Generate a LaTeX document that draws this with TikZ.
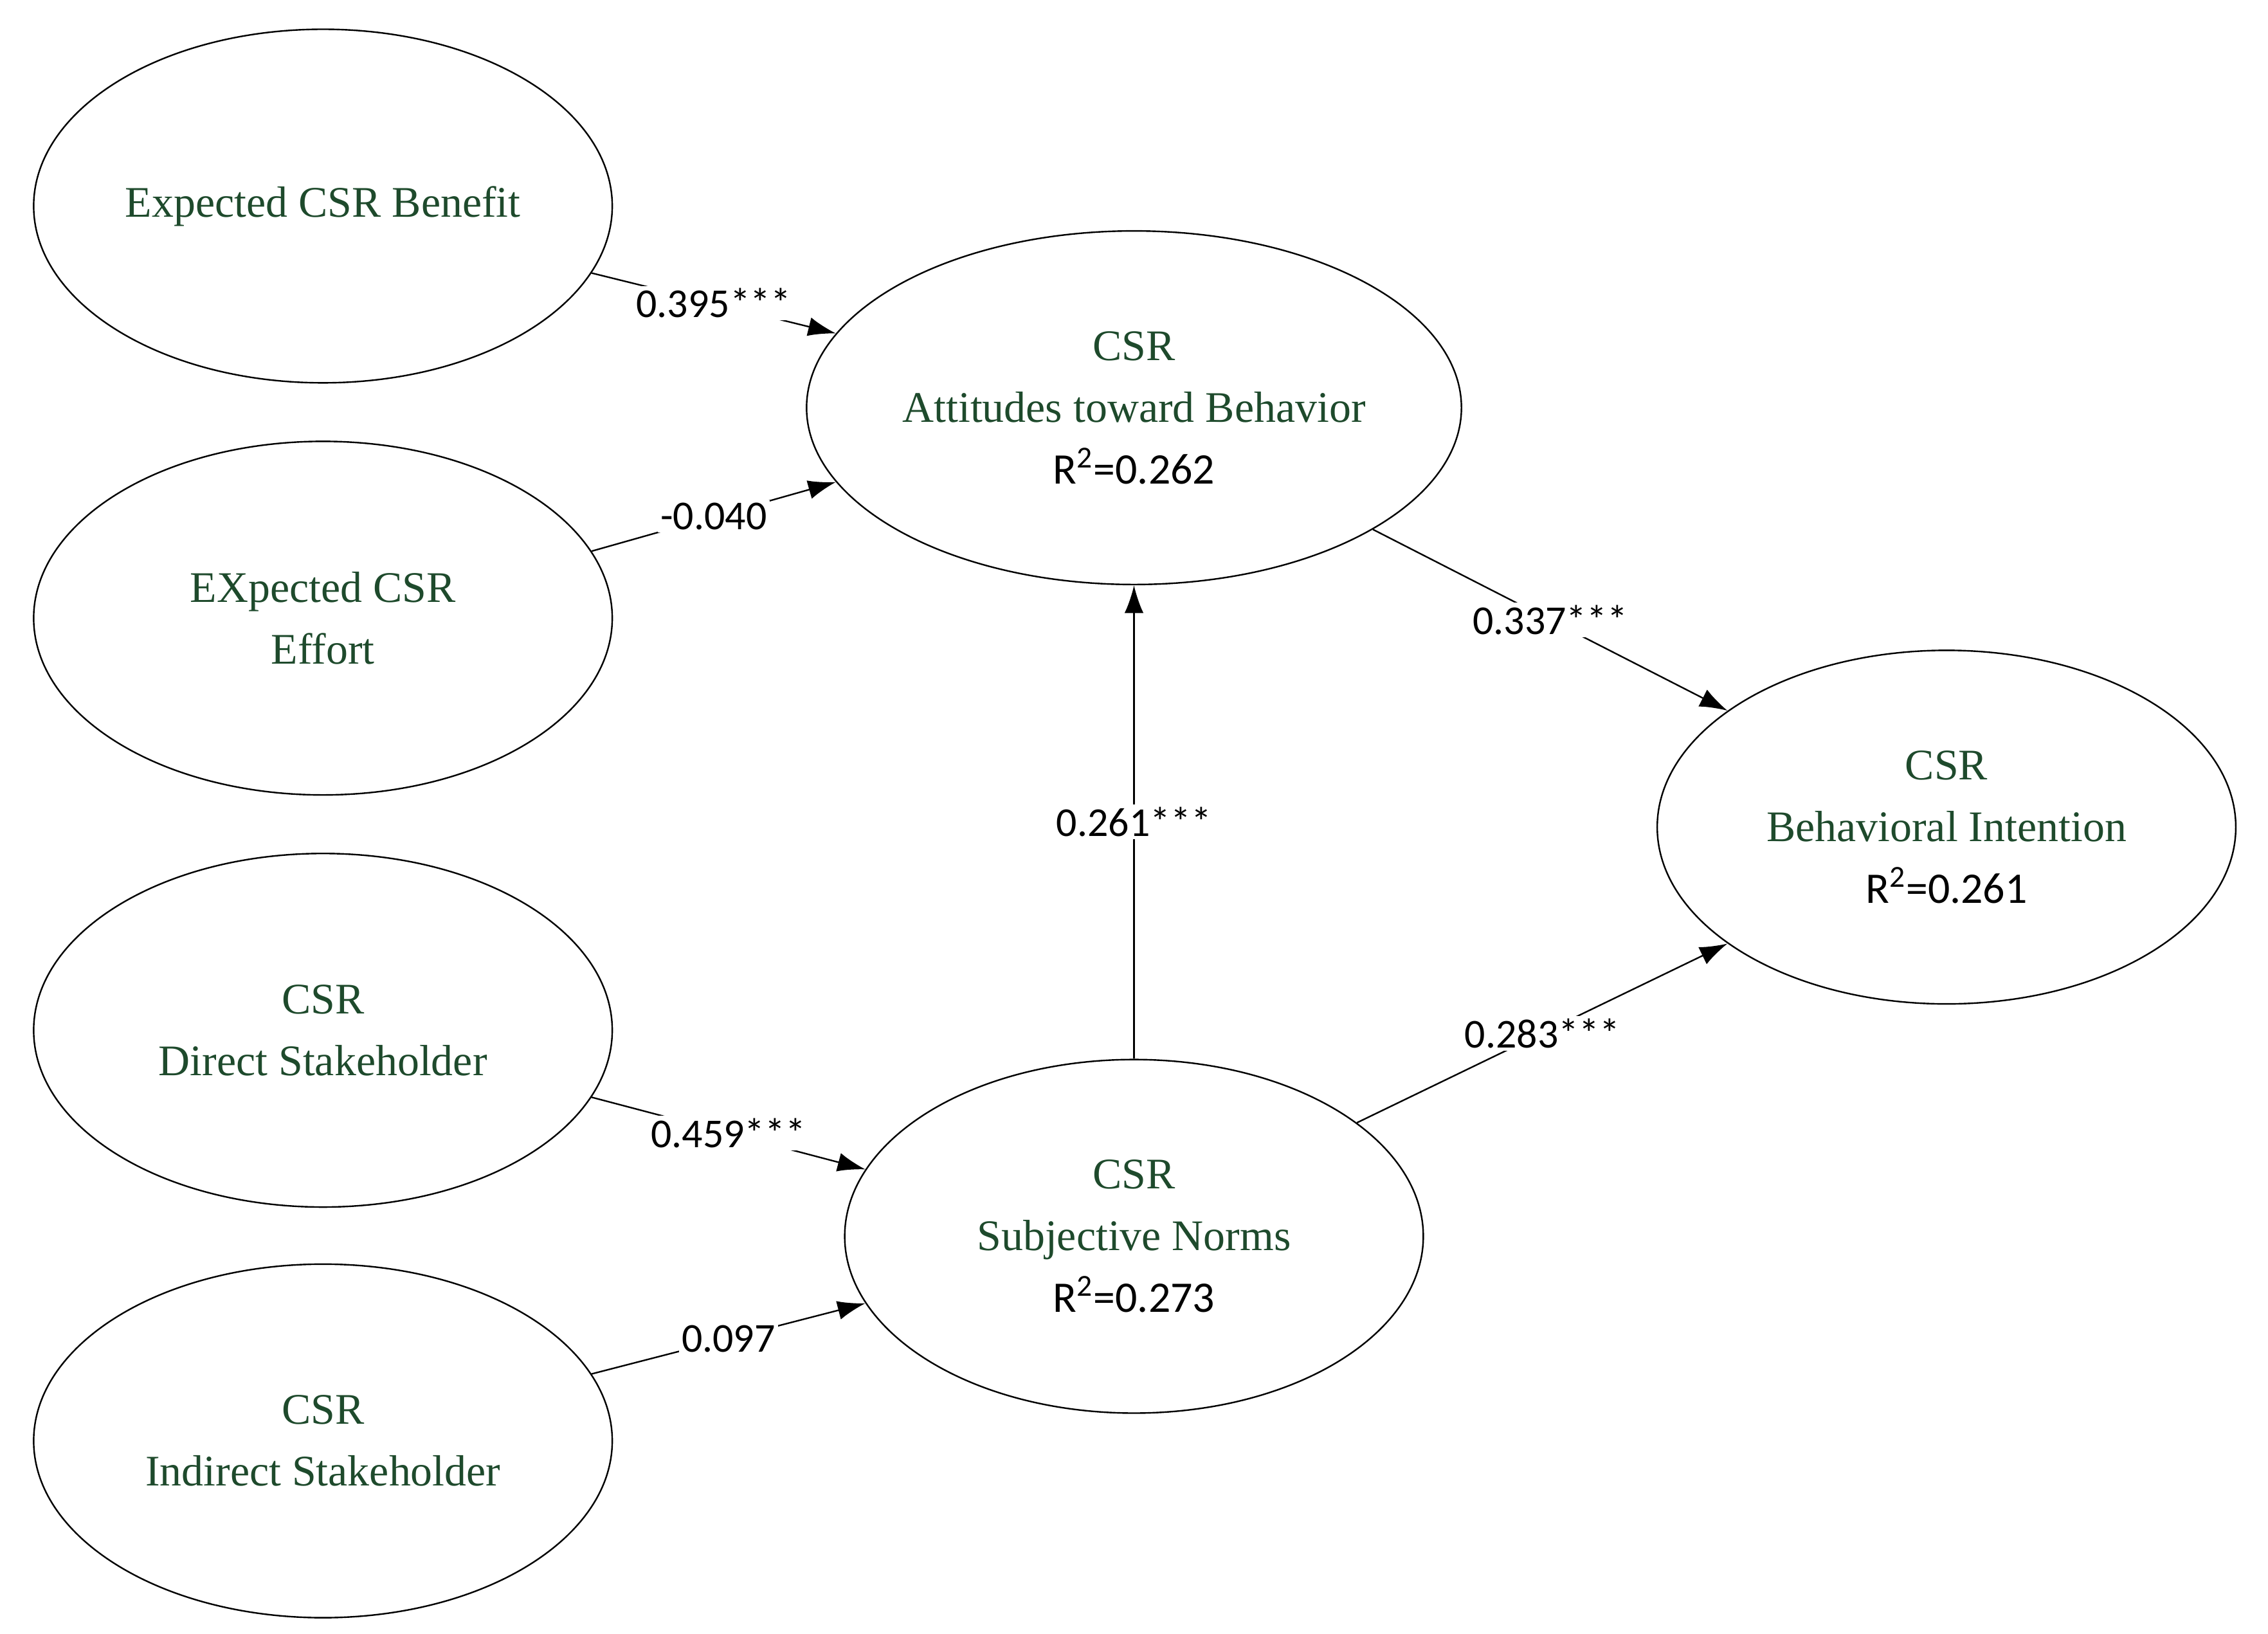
\documentclass[tikz,border=0pt]{standalone}
\usepackage{fontspec}
\setmainfont{Liberation Serif}
\newfontfamily\lab{Carlito}
\usetikzlibrary{shapes.geometric,arrows.meta}
\definecolor{dg}{HTML}{1E4A2C}
\begin{document}
\begin{tikzpicture}[x=0.02cm,y=-0.02cm,
  lv/.style={ellipse,draw,line width=0.6pt,minimum width=7.92cm,minimum height=4.84cm,inner sep=0pt,align=center,font=\fontsize{17}{24}\selectfont,text=dg},
  ar/.style={line width=0.6pt,-{Latex[length=0.38cm,width=0.26cm]}},
  lb/.style={fill=white,inner sep=1pt,font=\lab\fontsize{16}{18}\selectfont}]
\useasboundingbox (0,0) rectangle (1552,1118);
\node[lv] (ben) at (221,141) {Expected CSR Benefit};
\node[lv] (eff) at (221,423) {EXpected CSR\\Effort};
\node[lv] (dir) at (221,705) {CSR\\Direct Stakeholder};
\node[lv] (ind) at (221,986) {CSR\\Indirect Stakeholder};
\node[lv] (att) at (776,279) {CSR\\Attitudes toward Behavior\\{\lab\color{black}R\textsuperscript{2}=0.262}};
\node[lv] (sub) at (776,846) {CSR\\Subjective Norms\\{\lab\color{black}R\textsuperscript{2}=0.273}};
\node[lv] (beh) at (1332,566) {CSR\\Behavioral Intention\\{\lab\color{black}R\textsuperscript{2}=0.261}};
\draw[ar] (ben.-14) -- node[lb]{0.395***} (att.166);
\draw[ar] (eff.14) -- node[lb]{-0.040} (att.194);
\draw[ar] (att.-27) -- node[lb]{0.337***} (beh.152);
\draw[ar] (sub.90) -- node[lb]{0.261***} (att.-90);
\draw[ar] (sub.27) -- node[lb]{0.283***} (beh.208);
\draw[ar] (dir.-14) -- node[lb]{0.459***} (sub.166);
\draw[ar] (ind.14) -- node[lb]{0.097} (sub.194);
\end{tikzpicture}
\end{document}
